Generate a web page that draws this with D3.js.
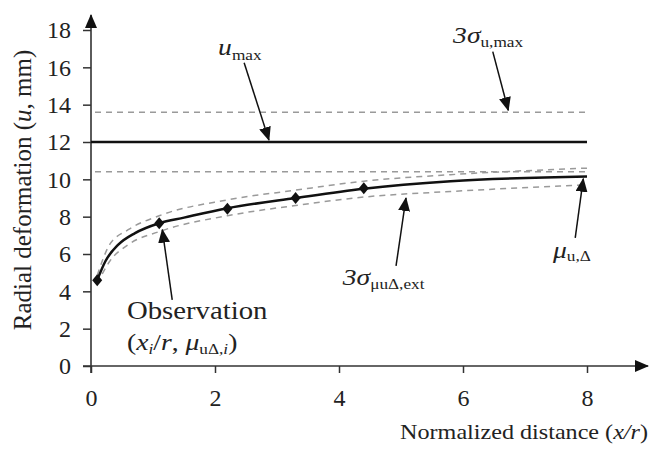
<!DOCTYPE html>
<html>
<head>
<meta charset="utf-8">
<script src="https://cdn.jsdelivr.net/npm/d3@7"></script>
<style>
  body { margin: 0; background: #fff; }
  svg text { font-family: "Liberation Serif", "Times New Roman", serif; fill: #222; }
</style>
</head>
<body>
<svg width="653" height="456"></svg>
<script>
// values
var xTicks = [0, 2, 4, 6, 8];
var yTicks = [0, 2, 4, 6, 8, 10, 12, 14, 16, 18];

var obsX = [0.1, 1.1, 2.2, 3.3, 4.4];
var obsY = [4.6, 7.65, 8.42, 9.0, 9.52];

var meanX = [0.1, 0.23, 0.44, 0.71, 1.1, 1.5, 2.2, 3.3, 4.4, 5.8, 8];
var meanY = [4.6, 5.6, 6.5, 7.12, 7.65, 7.95, 8.45, 9.0, 9.5, 9.9, 10.15];

var bandX = [0.1, 0.3, 0.6, 1.1, 2.2, 3.3, 4.4, 5.8, 8];
var bandUpper = [4.85, 6.5, 7.3, 8.05, 8.9, 9.42, 9.9, 10.25, 10.6];
var bandLower = [4.4, 5.6, 6.5, 7.2, 8.05, 8.6, 9.05, 9.35, 9.7];

var uMax = 12;
var sigmaUMax = 1.6;

var svg = d3.select("svg");

var x = d3.scaleLinear().domain([0, 8]).range([91, 587]);
var y = d3.scaleLinear().domain([0, 18]).range([366, 30]);

var defs = svg.append("defs");
defs.append("marker")
  .attr("id", "head")
  .attr("markerUnits", "userSpaceOnUse")
  .attr("viewBox", "0 0 14 12")
  .attr("refX", 13).attr("refY", 6)
  .attr("markerWidth", 14).attr("markerHeight", 12)
  .attr("orient", "auto")
  .append("path")
  .attr("d", "M0,0 L14,6 L0,12 Z")
  .attr("fill", "#111");

// axes
var yAxis = svg.append("g")
  .attr("transform", "translate(" + x(0) + ",0)")
  .call(d3.axisLeft(y).tickValues(yTicks).tickSize(8).tickPadding(12));
var xAxis = svg.append("g")
  .attr("transform", "translate(0," + y(0) + ")")
  .call(d3.axisBottom(x).tickValues(xTicks).tickSize(7).tickPadding(16));

[xAxis, yAxis].forEach(function(a){
  a.select(".domain").remove();
  a.selectAll(".tick line").attr("stroke", "#333").attr("stroke-width", 1.5);
  a.selectAll(".tick text").style("font-size", "24px").attr("fill", "#222")
    .style("font-family", "'Liberation Serif', 'Times New Roman', serif");
});

svg.append("line")
  .attr("x1", x(0)).attr("x2", x(0))
  .attr("y1", y(0) + 7).attr("y2", 15)
  .attr("stroke", "#333").attr("stroke-width", 1.6)
  .attr("marker-end", "url(#head)");
svg.append("line")
  .attr("x1", x(0) - 8).attr("x2", 648)
  .attr("y1", y(0)).attr("y2", y(0))
  .attr("stroke", "#333").attr("stroke-width", 1.6)
  .attr("marker-end", "url(#head)");

// axis titles
var yt = svg.append("text")
  .attr("transform", "translate(31," + 190 + ") rotate(-90)")
  .attr("text-anchor", "middle")
  .style("font-size", "25px");
yt.append("tspan").text("Radial deformation (");
yt.append("tspan").style("font-style", "italic").text("u");
yt.append("tspan").text(", mm)");

var xt = svg.append("text")
  .attr("transform", "translate(648,439) scale(1.15,1)")
  .attr("text-anchor", "end")
  .style("font-size", "21px");
xt.append("tspan").text("Normalized distance (");
xt.append("tspan").style("font-style", "italic").text("x/r");
xt.append("tspan").text(")");

// horizontal lines
svg.append("line")
  .attr("x1", x(0)).attr("x2", x(8))
  .attr("y1", y(uMax)).attr("y2", y(uMax))
  .attr("stroke", "#111").attr("stroke-width", 2.5);

[uMax + sigmaUMax, uMax - sigmaUMax].forEach(function(v){
  svg.append("line")
    .attr("x1", x(0) + 4).attr("x2", x(8))
    .attr("y1", y(v)).attr("y2", y(v))
    .attr("stroke", "#9a9a9a").attr("stroke-width", 1.5)
    .attr("stroke-dasharray", "6,5");
});

var line = d3.line()
  .x(function(d){ return x(d[0]); })
  .y(function(d){ return y(d[1]); })
  .curve(d3.curveMonotoneX);

[bandUpper, bandLower].forEach(function(arr){
  svg.append("path")
    .datum(bandX.map(function(v, i){ return [v, arr[i]]; }))
    .attr("d", line)
    .attr("fill", "none")
    .attr("stroke", "#9a9a9a").attr("stroke-width", 1.5)
    .attr("stroke-dasharray", "6,5");
});

svg.append("path")
  .datum(meanX.map(function(v, i){ return [v, meanY[i]]; }))
  .attr("d", line)
  .attr("fill", "none")
  .attr("stroke", "#111").attr("stroke-width", 2.5);

svg.selectAll(".obs")
  .data(obsX.map(function(v, i){ return [v, obsY[i]]; }))
  .enter().append("path")
  .attr("class", "obs")
  .attr("transform", function(d){ return "translate(" + x(d[0]) + "," + y(d[1]) + ")"; })
  .attr("d", "M0,-6 L5,0 L0,6 L-5,0 Z")
  .attr("fill", "#111");

// annotation arrows (data coords)
var arrows = [
  [[2.47, 16.25], [2.87, 12.1]],
  [[6.48, 16.84], [6.73, 13.7]],
  [[4.92, 5.36], [5.08, 9.0]],
  [[7.81, 6.86], [7.94, 10.03]],
  [[1.31, 3.54], [1.15, 7.3]]
];
arrows.forEach(function(a){
  svg.append("line")
    .attr("x1", x(a[0][0])).attr("y1", y(a[0][1]))
    .attr("x2", x(a[1][0])).attr("y2", y(a[1][1]))
    .attr("stroke", "#111").attr("stroke-width", 1.5)
    .attr("marker-end", "url(#head)");
});

// labels come out a bit wide in the picture, so stretch them sideways
function label(px, py, parts){
  var t = svg.append("text")
    .attr("transform", "translate(" + px + "," + py + ") scale(1.15,1)");
  parts.forEach(function(p){
    var s = t.append("tspan").text(p.t).style("font-size", p.size + "px");
    if (p.it) s.style("font-style", "italic");
    if (p.dy) s.attr("dy", p.dy);
  });
  return t;
}

label(x(2.05), y(16.66), [
  {t: "u", it: true, size: 24},
  {t: "max", size: 15, dy: 5}
]);
label(x(5.84), y(17.3), [
  {t: "3σ", it: true, size: 24},
  {t: "u,max", size: 15, dy: 4}
]);
label(x(4.06), y(4.34), [
  {t: "3σ", it: true, size: 24},
  {t: "μuΔ,ext", size: 15, dy: 4}
]);
label(x(7.45), y(5.79), [
  {t: "μ", it: true, size: 24},
  {t: "u,Δ", size: 15, dy: 3}
]);
label(x(0.58), y(2.52), [
  {t: "Observation", size: 25}
]);
label(x(0.58), y(0.86), [
  {t: "(", size: 24},
  {t: "x", it: true, size: 24},
  {t: "i", it: true, size: 15, dy: 4},
  {t: "/", size: 24, dy: -4},
  {t: "r", it: true, size: 24},
  {t: ", ", size: 24},
  {t: "μ", it: true, size: 24},
  {t: "uΔ,", size: 15, dy: 4},
  {t: "i", it: true, size: 15},
  {t: ")", size: 24, dy: -4}
]);
</script>
</body>
</html>
